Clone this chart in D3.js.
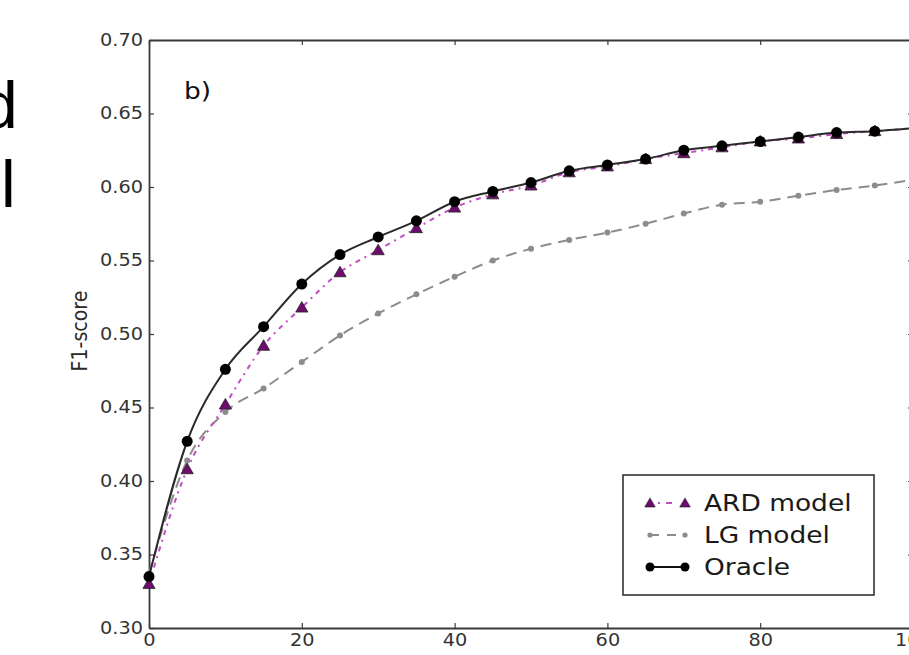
<!DOCTYPE html>
<html lang='en'>
<head>
  <meta charset='utf-8'>
  <title>F1-score</title>
  <script src='https://d3js.org/d3.v7.min.js'></script>
  <style>
  body { margin: 0; background: #fff; }
  text { font-family: 'DejaVu Sans', sans-serif; fill: #2a2a2a; }
  </style>
</head>
<body>
<script>
// data, markers every 5 steps
var xs = [0, 5, 10, 15, 20, 25, 30, 35, 40, 45, 50, 55, 60, 65, 70, 75, 80, 85, 90, 95, 100];
var ard = [0.330, 0.408, 0.452, 0.492, 0.518, 0.542, 0.557, 0.572, 0.586, 0.595, 0.601, 0.610, 0.614, 0.619, 0.623, 0.627, 0.631, 0.633, 0.636, 0.638, 0.640];
var lg = [0.337, 0.414, 0.447, 0.463, 0.481, 0.499, 0.514, 0.527, 0.539, 0.550, 0.558, 0.564, 0.569, 0.575, 0.582, 0.588, 0.590, 0.594, 0.598, 0.601, 0.605];
var oracle = [0.335, 0.427, 0.476, 0.505, 0.534, 0.554, 0.566, 0.577, 0.590, 0.597, 0.603, 0.611, 0.615, 0.619, 0.625, 0.628, 0.631, 0.634, 0.637, 0.638, 0.640];
var xTicks = [0, 20, 40, 60, 80, 100];
var yTicks = [0.30, 0.35, 0.40, 0.45, 0.50, 0.55, 0.60, 0.65, 0.70];
var legendNames = ['ARD model', 'LG model', 'Oracle'];

var width = 909;
var height = 655;
var sx = 1.15; // the picture is stretched sideways

var svg = d3.select('body')
  .append('svg')
  .attr('width', width)
  .attr('height', height);

// big letters cut off at the left edge of the slide
svg.append('text').attr('x', -19).attr('y', 128)
  .style('font-family', 'Liberation Sans, Arial, sans-serif')
  .style('font-size', '66px').style('fill', '#000').text('d');
svg.append('text').attr('x', 1).attr('y', 207)
  .style('font-family', 'Liberation Sans, Arial, sans-serif')
  .style('font-size', '66px').style('fill', '#000').text('l');

var x = d3.scaleLinear().domain([0, 100]).range([149, 913]);
var y = d3.scaleLinear().domain([0.30, 0.70]).range([628, 40]);

var g = svg.append('g');

function fixText(sel) {
  sel.selectAll('text').each(function() {
    var t = d3.select(this);
    t.attr('x', (+t.attr('x') || 0) / sx).attr('transform', 'scale(' + sx + ',1)');
  });
}

function styleAxis(a) {
  a.select('.domain').attr('stroke', '#3a3a3a').attr('stroke-width', 1.8);
  a.selectAll('.tick line').attr('stroke', '#3a3a3a').attr('stroke-width', 1.2);
  a.selectAll('text').style('font-size', '16.8px').style('fill', '#333');
}

var leftAxis = g.append('g').attr('transform', 'translate(149,0)')
  .call(d3.axisLeft(y).tickValues(yTicks).tickFormat(d3.format('.2f')).tickSize(-5).tickSizeOuter(0).tickPadding(6));
styleAxis(leftAxis); fixText(leftAxis);

var rightAxis = g.append('g').attr('transform', 'translate(913,0)')
  .call(d3.axisRight(y).tickValues(yTicks).tickFormat('').tickSize(-5).tickSizeOuter(0));
styleAxis(rightAxis);

var bottomAxis = g.append('g').attr('transform', 'translate(0,628)')
  .call(d3.axisBottom(x).tickValues(xTicks).tickSize(-5).tickSizeOuter(0).tickPadding(6));
styleAxis(bottomAxis); fixText(bottomAxis);

var topAxis = g.append('g').attr('transform', 'translate(0,40)')
  .call(d3.axisTop(x).tickValues(xTicks).tickFormat('').tickSize(-5).tickSizeOuter(0));
styleAxis(topAxis);

svg.append('text')
  .attr('transform', 'translate(87,331) scale(' + sx + ',1) rotate(-90)')
  .attr('text-anchor', 'middle')
  .style('font-size', '19px')
  .text('F1-score');

svg.append('text')
  .attr('transform', 'translate(184,99) scale(' + sx + ',1)')
  .style('font-size', '23px')
  .style('fill', '#111')
  .text('b)');

var line = d3.line()
  .x(function(d) { return x(d[0]); })
  .y(function(d) { return y(d[1]); })
  .curve(d3.curveMonotoneX);

function pairs(vals) { return xs.map(function(v, i) { return [v, vals[i]]; }); }
// last point carries the line to the right edge, no marker there
function marks(vals) { return pairs(vals).filter(function(d) { return d[0] < 100; }); }

var tri = d3.symbol().type(d3.symbolTriangle).size(64);

// LG model
g.append('path').datum(pairs(lg))
  .attr('fill', 'none').attr('stroke', '#8c8c8c').attr('stroke-width', 2)
  .attr('stroke-dasharray', '11,7').attr('d', line);
g.selectAll('.lg').data(marks(lg)).enter().append('circle')
  .attr('class', 'lg')
  .attr('cx', function(d) { return x(d[0]); })
  .attr('cy', function(d) { return y(d[1]); })
  .attr('r', 3).attr('fill', '#8c8c8c');

// ARD model
g.append('path').datum(pairs(ard))
  .attr('fill', 'none').attr('stroke', '#c04ec0').attr('stroke-width', 2)
  .attr('stroke-dasharray', '5,5,2,5').attr('d', line);
g.selectAll('.ard').data(marks(ard)).enter().append('path')
  .attr('class', 'ard')
  .attr('transform', function(d) { return 'translate(' + x(d[0]) + ',' + (y(d[1]) + 1) + ')'; })
  .attr('d', tri).attr('fill', '#6e0c6e').attr('stroke', '#222').attr('stroke-width', 0.8);

// Oracle
g.append('path').datum(pairs(oracle))
  .attr('fill', 'none').attr('stroke', '#2a2a2a').attr('stroke-width', 2).attr('d', line);
g.selectAll('.or').data(marks(oracle)).enter().append('circle')
  .attr('class', 'or')
  .attr('cx', function(d) { return x(d[0]); })
  .attr('cy', function(d) { return y(d[1]); })
  .attr('r', 5.5).attr('fill', '#000');

// legend
var lgd = svg.append('g');
lgd.append('rect').attr('x', 623).attr('y', 475).attr('width', 251).attr('height', 120)
  .attr('fill', '#fff').attr('stroke', '#333').attr('stroke-width', 1.6);
var rows = [503, 535, 567];
var styles = [
  { stroke: '#c04ec0', dash: '0,8,2,6,6,20' },
  { stroke: '#8c8c8c', dash: '9,8' },
  { stroke: '#111', dash: null }
];
legendNames.forEach(function(name, i) {
  var ry = rows[i];
  lgd.append('line').attr('x1', 650).attr('x2', 685).attr('y1', ry).attr('y2', ry)
    .attr('stroke', styles[i].stroke).attr('stroke-width', 2)
    .attr('stroke-dasharray', styles[i].dash);
  [650, 685].forEach(function(cx) {
    if (i === 0) {
      lgd.append('path').attr('transform', 'translate(' + cx + ',' + (ry + 1) + ')')
        .attr('d', d3.symbol().type(d3.symbolTriangle).size(48))
        .attr('fill', '#6e0c6e').attr('stroke', '#222').attr('stroke-width', 0.6);
    } else if (i === 1) {
      lgd.append('circle').attr('cx', cx).attr('cy', ry).attr('r', 2.6).attr('fill', '#8c8c8c');
    } else {
      lgd.append('circle').attr('cx', cx).attr('cy', ry).attr('r', 4.5).attr('fill', '#000');
    }
  });
  lgd.append('text')
    .attr('transform', 'translate(704,' + (ry + 8) + ') scale(' + sx + ',1)')
    .style('font-size', '23px').style('fill', '#1a1a1a')
    .text(name);
});
</script>
</body>
</html>
